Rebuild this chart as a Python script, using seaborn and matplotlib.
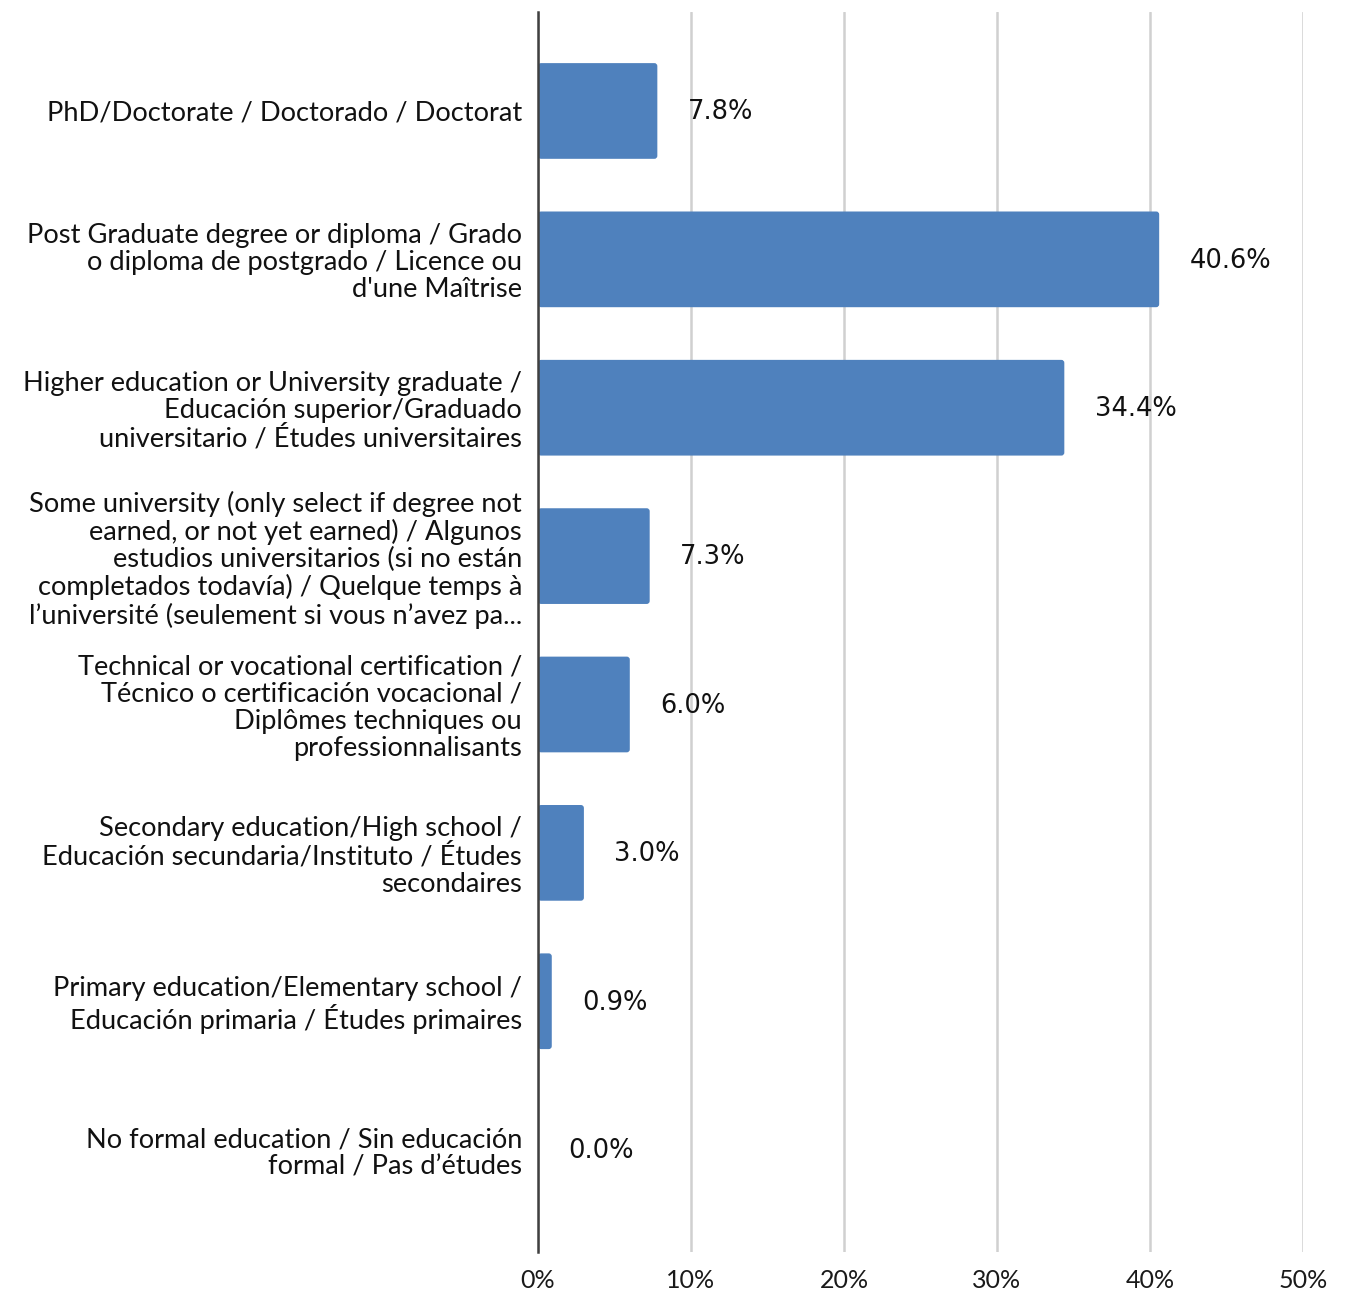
import matplotlib
matplotlib.use("Agg")
import matplotlib.pyplot as plt
from matplotlib.patches import FancyBboxPatch
import seaborn as sns
import pandas as pd

categories = [
    "PhD/Doctorate / Doctorado / Doctorat",
    "Post Graduate degree or diploma / Grado\no diploma de postgrado / Licence ou\nd'une Maîtrise",
    "Higher education or University graduate /\nEducación superior/Graduado\nuniversitario / Études universitaires",
    "Some university (only select if degree not\nearned, or not yet earned) / Algunos\nestudios universitarios (si no están\ncompletados todavía) / Quelque temps à\nl’université (seulement si vous n’avez pa...",
    "Technical or vocational certification /\nTécnico o certificación vocacional /\nDiplômes techniques ou\nprofessionnalisants",
    "Secondary education/High school /\nEducación secundaria/Instituto / Études\nsecondaires",
    "Primary education/Elementary school /\nEducación primaria / Études primaires",
    "No formal education / Sin educación\nformal / Pas d’études",
]
percentages = [7.8, 40.6, 34.4, 7.3, 6.0, 3.0, 0.9, 0.0]
tick_values = [0, 10, 20, 30, 40, 50]
tick_labels = ["0%", "10%", "20%", "30%", "40%", "50%"]

df = pd.DataFrame({"category": categories, "pct": percentages})

sns.set_style("white")
plt.rcParams["font.family"] = ["Lato", "DejaVu Sans"]

W, H, DPI = 1348, 1293, 100
fig = plt.figure(figsize=(W / DPI, H / DPI), dpi=DPI)
ax = fig.add_axes([538 / W, 1 - 1252 / H, (1303 - 538) / W, (1252 - 12) / H])

bar_color = "#4F81BD"
sns.barplot(data=df, x="pct", y="category", orient="h", color=bar_color,
            saturation=1, width=0.645, ax=ax, zorder=3)

ax.set_xlim(0, 50)
ax.set_ylim(7.69, -0.667)

# soften the bar ends with small rounded corners
x_px = (1303 - 538) / 50.0
y_px = (1252 - 12) / (7.69 + 0.667)
rad_x = 3.0 / x_px
aspect = (3.0 / y_px) / rad_x
for p in list(ax.patches):
    x0, y0 = p.get_x(), p.get_y()
    w, h = p.get_width(), p.get_height()
    p.remove()
    if w <= 0:
        continue
    ax.add_patch(FancyBboxPatch((x0, y0), w, h,
                                boxstyle=f"round,pad=0,rounding_size={min(rad_x, w / 2)}",
                                mutation_aspect=aspect,
                                facecolor=bar_color, edgecolor="none", zorder=3))

# value labels
for i, v in enumerate(percentages):
    ax.annotate(f"{v:.1f}%", xy=(v, i), xytext=(22, -1), textcoords="offset points",
                ha="left", va="center", fontsize=18.5, family="DejaVu Sans",
                color="#111111", zorder=4)

ax.set_xticks(tick_values)
ax.set_xticklabels(tick_labels, fontsize=18, color="#1a1a1a")
ax.set_yticks(range(len(categories)))
ax.set_yticklabels(categories, fontsize=19.6, color="#111111", linespacing=1.1)
ax.tick_params(axis="y", length=0, pad=11.5)
ax.tick_params(axis="x", length=0, pad=12)
ax.set_xlabel("")
ax.set_ylabel("")

ax.grid(axis="x", color="#d0d0d0", linewidth=1.8, zorder=0)
ax.set_axisbelow(True)
for side in ["top", "right", "bottom"]:
    ax.spines[side].set_visible(False)
ax.spines["left"].set_color("#404040")
ax.spines["left"].set_linewidth(1.8)
ax.spines["left"].set_zorder(5)

fig.savefig("out.png", dpi=DPI, facecolor="white")
